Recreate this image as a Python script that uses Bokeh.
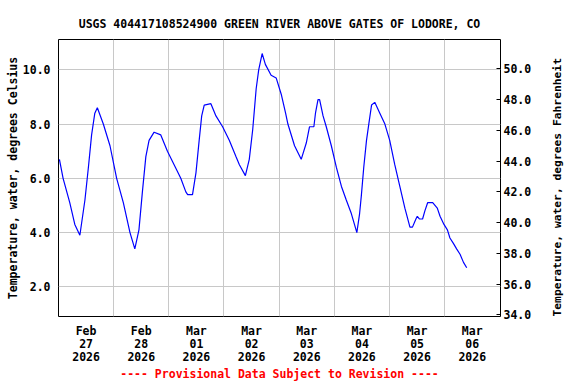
import math
from bokeh.plotting import figure
from bokeh.models import Range1d, LinearAxis, FixedTicker, PrintfTickFormatter
from bokeh.embed import file_html
from bokeh.resources import INLINE

# hours since 2026-02-27 00:00
hours = [0.4, 2.0, 4.9, 7.1, 9.3, 11.5, 13.0, 14.4, 15.8, 16.9, 19.5, 22.4, 25.3, 28.2, 31.1,
         33.2, 35.0, 36.5, 38.0, 39.4, 41.6, 44.5, 47.4, 50.3, 53.2, 55.4, 56.2, 58.3, 59.8,
         61.2, 62.3, 63.4, 66.3, 68.5, 71.4, 74.3, 77.2, 78.7, 81.3, 83.0, 84.5, 86.0, 87.1,
         88.6, 90.0, 92.5, 94.7, 96.9, 98.8, 99.8, 102.7, 105.6, 107.8, 109.2, 111.1, 111.8,
         112.9, 113.6, 115.1, 116.5, 118.7, 120.9, 123.1, 125.2, 127.4, 129.8, 131.0, 131.8,
         132.8, 134.0, 135.0, 136.2, 137.6, 139.8, 142.0, 144.1, 146.3, 148.5, 150.7, 152.9,
         154.0, 155.5, 156.1, 157.0, 158.4, 159.4, 160.6, 161.6, 162.8, 164.8, 166.0, 167.7,
         169.2, 170.3, 171.8, 173.2, 174.7, 176.2, 177.6]
temp_c = [6.7, 6.0, 5.1, 4.3, 3.9, 5.2, 6.4, 7.6, 8.4, 8.6, 8.0, 7.2, 6.0, 5.1, 4.0,
          3.4, 4.1, 5.5, 6.8, 7.4, 7.7, 7.6, 7.0, 6.5, 6.0, 5.5, 5.4, 5.4, 6.2,
          7.4, 8.3, 8.7, 8.75, 8.3, 7.9, 7.4, 6.8, 6.5, 6.1, 6.7, 7.8, 9.3, 10.0,
          10.6, 10.2, 9.8, 9.7, 9.1, 8.4, 8.0, 7.2, 6.7, 7.3, 7.9, 7.9, 8.4,
          8.9, 8.9, 8.3, 7.9, 7.2, 6.4, 5.7, 5.2, 4.7, 4.0, 4.7, 5.4,
          6.4, 7.4, 8.0, 8.7, 8.8, 8.4, 8.0, 7.4, 6.5, 5.7, 4.9, 4.2,
          4.2, 4.5, 4.6, 4.5, 4.5, 4.8, 5.1, 5.1, 5.1, 4.9, 4.6, 4.3,
          4.1, 3.8, 3.6, 3.4, 3.2, 2.9, 2.7]

date_tick_hours = [12, 36, 60, 84, 108, 132, 156, 180]
date_tick_labels = ["Feb\n27\n2026", "Feb\n28\n2026", "Mar\n01\n2026", "Mar\n02\n2026",
                    "Mar\n03\n2026", "Mar\n04\n2026", "Mar\n05\n2026", "Mar\n06\n2026"]
midnight_hours = [24, 48, 72, 96, 120, 144, 168]
c_ticks = [2, 4, 6, 8, 10]
f_ticks = [34, 36, 38, 40, 42, 44, 46, 48, 50]

TITLE = "USGS 404417108524900 GREEN RIVER ABOVE GATES OF LODORE, CO"
NOTE = "---- Provisional Data Subject to Revision ----"
FONT = "DejaVu Sans Mono"
FS = "11.5px"

p = figure(width=576, height=384, output_backend="svg", toolbar_location=None,
           x_range=Range1d(0, 192.3), y_range=Range1d(0.905, 11.117),
           min_border_left=58, min_border_right=76, min_border_top=39, min_border_bottom=68,
           background_fill_color="white", border_fill_color="white")

p.title.text = TITLE
p.title.align = "center"
p.title.text_font = FONT
p.title.text_font_size = FS
p.title.text_font_style = "bold"
p.title.text_color = "black"
p.title.standoff = 17

p.outline_line_color = "black"
p.outline_line_width = 1
p.outline_line_alpha = 1

# bottom axis
xa = p.xaxis[0]
xa.ticker = FixedTicker(ticks=date_tick_hours)
xa.major_label_overrides = {h: lab for h, lab in zip(date_tick_hours, date_tick_labels)}
xa.major_tick_in = 0
xa.major_tick_out = 0
xa.minor_tick_line_color = None
xa.axis_line_color = None
xa.major_label_standoff = 7
xa.major_label_text_font = FONT
xa.major_label_text_font_size = FS
xa.major_label_text_font_style = "bold"
xa.major_label_text_color = "black"
xa.major_label_text_line_height = 0.95
xa.axis_label = NOTE
xa.axis_label_text_font = FONT
xa.axis_label_text_font_size = FS
xa.axis_label_text_font_style = "bold"
xa.axis_label_text_color = "#ff0000"
xa.axis_label_standoff = 0

# left axis
ya = p.yaxis[0]
ya.ticker = FixedTicker(ticks=c_ticks)
ya.formatter = PrintfTickFormatter(format="%.1f")
ya.major_tick_in = 0
ya.major_tick_out = 0
ya.minor_tick_line_color = None
ya.axis_line_color = None
ya.major_label_standoff = 8
ya.major_label_text_font = FONT
ya.major_label_text_font_size = FS
ya.major_label_text_font_style = "bold"
ya.major_label_text_color = "black"
ya.axis_label = "Temperature, water, degrees Celsius"
ya.axis_label_text_font = FONT
ya.axis_label_text_font_size = FS
ya.axis_label_text_font_style = "bold"
ya.axis_label_text_color = "black"
ya.axis_label_standoff = 0

p.xgrid[0].ticker = FixedTicker(ticks=midnight_hours)
p.ygrid[0].ticker = FixedTicker(ticks=c_ticks)
for g in (p.xgrid[0], p.ygrid[0]):
    g.grid_line_color = "#c8c8c8"
    g.grid_line_width = 1

# right axis (Fahrenheit)
p.extra_y_ranges = {"f": Range1d(33.889, 51.906)}
ra = LinearAxis(y_range_name="f", ticker=FixedTicker(ticks=f_ticks),
                formatter=PrintfTickFormatter(format="%.1f"))
ra.major_tick_in = 4
ra.major_tick_out = 0
ra.major_tick_line_color = "black"
ra.minor_tick_line_color = None
ra.axis_line_color = None
ra.major_label_standoff = 3
ra.major_label_text_font = FONT
ra.major_label_text_font_size = FS
ra.major_label_text_font_style = "bold"
ra.major_label_text_color = "black"
ra.axis_label = " Temperature, water, degrees Fahrenheit"
ra.axis_label_text_font = FONT
ra.axis_label_text_font_size = "11.3px"
ra.axis_label_text_font_style = "bold"
ra.axis_label_text_color = "black"
ra.axis_label_standoff = 23
ra.axis_label_orientation = math.pi / 2
try:
    ra.axis_label_align = "start"
except Exception:
    pass
p.add_layout(ra, "right")

p.line(hours, temp_c, line_color="#0000ff", line_width=1.2)

open("out.html", "w").write(file_html(p, INLINE))
